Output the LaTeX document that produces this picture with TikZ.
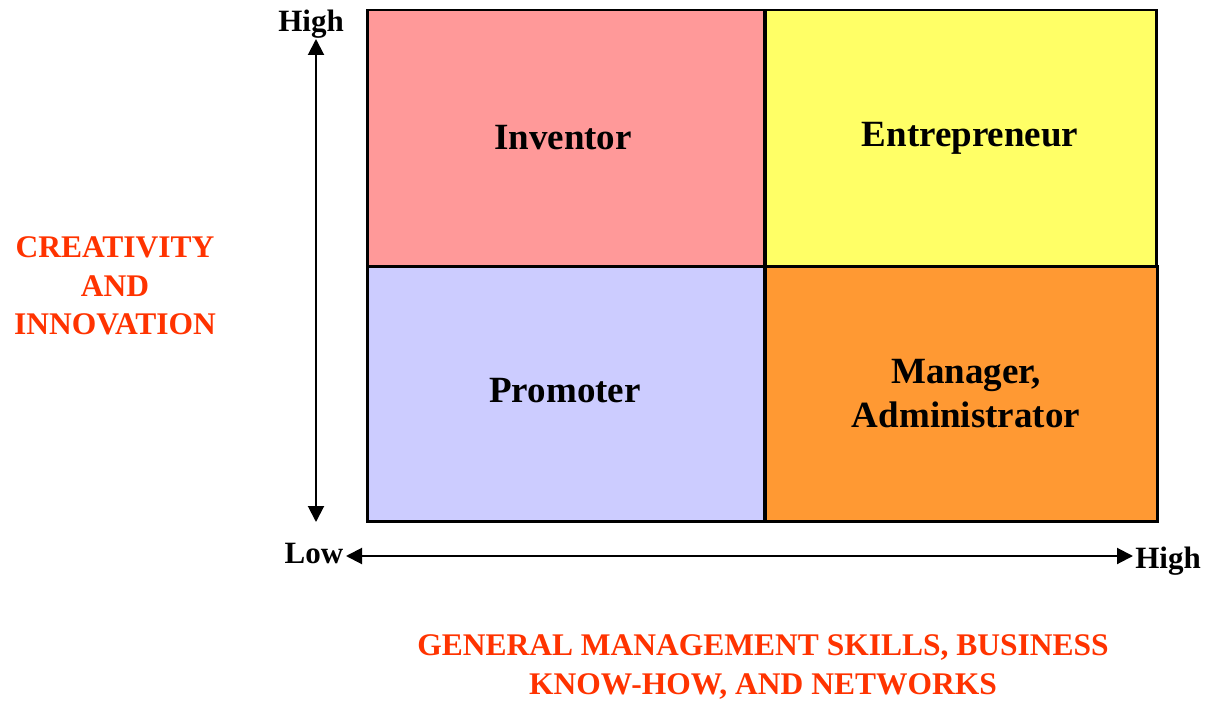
\documentclass[tikz,border=0pt]{standalone}
\usepackage{fontspec}
\setmainfont{Liberation Serif}
\usetikzlibrary{arrows.meta}

\definecolor{inventorpink}{HTML}{FF9999}
\definecolor{entrepyellow}{HTML}{FFFF66}
\definecolor{promoterblue}{HTML}{CCCCFF}
\definecolor{managerorange}{HTML}{FF9933}
\definecolor{axisred}{HTML}{FF3300}

\begin{document}
\begin{tikzpicture}[x=1pt, y=-1pt,
  quad/.style={draw=black, line width=2.5pt, anchor=north west, inner sep=0pt},
  quadlabel/.style={font=\bfseries\fontsize{37}{44}\selectfont, align=center},
  ticklabel/.style={font=\bfseries\fontsize{31}{37}\selectfont},
  axislabel/.style={font=\bfseries\fontsize{31.5}{38.5}\selectfont, text=axisred, align=center},
  axisarrow/.style={line width=2pt, {Triangle[length=16pt,width=16pt]}-{Triangle[length=16pt,width=16pt]}}]
\useasboundingbox (0,0) rectangle (1207,701);

% quadrants
\node[quad, fill=inventorpink, minimum width=397pt, minimum height=256pt] (inventor) at (366,9) {};
\node[quad, fill=entrepyellow, minimum width=391pt, minimum height=256pt] (entrepreneur) at (764,9) {};
\node[quad, fill=promoterblue, minimum width=397pt, minimum height=255pt] (promoter) at (366,265) {};
\node[quad, fill=managerorange, minimum width=392pt, minimum height=255pt] (manager) at (764,265) {};

\node[quadlabel] at (563,138) {Inventor};
\node[quadlabel] at (970,138) {Entrepreneur};
\node[quadlabel] at (565,391) {Promoter};
\node[quadlabel] at (966,394) {Manager,\\Administrator};

% axes
\coordinate (ytop) at (316,39);
\coordinate (ybot) at (316,522);
\coordinate (xleft) at (346,556);
\coordinate (xright) at (1133,556);
\draw[axisarrow] (ytop) -- (ybot);
\draw[axisarrow] (xleft) -- (xright);

\node[ticklabel] (yhigh) at (311,24) {High};
\node[ticklabel] (ylow) at (314,553) {Low};
\node[ticklabel] (xhigh) at (1168,561) {High};

\node[axislabel] (ytitle) at (115,286) {CREATIVITY\\AND\\INNOVATION};
\node[axislabel] (xtitle) at (763,667) {GENERAL MANAGEMENT SKILLS, BUSINESS\\KNOW-HOW, AND NETWORKS};

\end{tikzpicture}
\end{document}
